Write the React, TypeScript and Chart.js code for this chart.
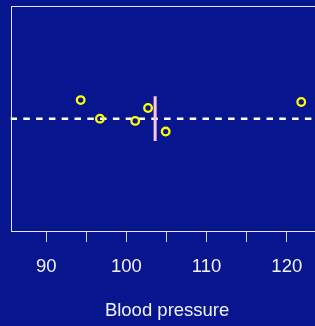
import React, { useEffect, useRef } from "react";
import { Chart, registerables } from "chart.js";

Chart.register(...registerables);

const bloodPressure = [94.3, 96.7, 101.1, 102.7, 104.9, 121.8];
const jitter = [0.165, 0.0, -0.02, 0.095, -0.115, 0.148];
const tickValues = [90, 95, 100, 105, 110, 115, 120];
const labelledTicks = [90, 100, 110, 120];
const xMin = 85.55;
const xMax = 124.6;
const meanBarHalf = 0.2;

const BG = "#07168F";
const FONT = "'Liberation Sans', Arial, Helvetica, sans-serif";

const framePlugin = {
  id: "frame",
  afterDatasetsDraw(chart: any) {
    const { ctx, chartArea } = chart;
    ctx.save();
    ctx.strokeStyle = "#E6E6F2";
    ctx.lineWidth = 1;
    const l = Math.round(chartArea.left) + 0.5;
    const t = Math.round(chartArea.top) + 0.5;
    const r = Math.round(chartArea.right) + 0.5;
    const b = Math.round(chartArea.bottom) + 0.5;
    ctx.strokeRect(l, t, r - l, b - t);
    ctx.restore();
  },
};

export default function App() {
  const ref = useRef<HTMLCanvasElement>(null);
  useEffect(() => {
    const mean = bloodPressure.reduce((a, b) => a + b, 0) / bloodPressure.length;
    const chart = new Chart(ref.current!, {
      type: "scatter",
      data: {
        datasets: [
          {
            data: bloodPressure.map((x, i) => ({ x, y: jitter[i] })),
            pointStyle: "circle",
            pointRadius: 3.8,
            pointBorderWidth: 2.3,
            borderColor: "#FFFF00",
            backgroundColor: "rgba(0,0,0,0)",
            order: 1,
          } as any,
          {
            data: [
              { x: mean, y: -meanBarHalf },
              { x: mean, y: meanBarHalf },
            ],
            showLine: true,
            borderColor: "#FFC4E4",
            borderWidth: 3,
            pointRadius: 0,
            order: 2,
          } as any,
          {
            data: [
              { x: xMin, y: 0 },
              { x: xMax, y: 0 },
            ],
            showLine: true,
            borderColor: "#FFFFFF",
            borderWidth: 2.5,
            borderDash: [6.5, 6.3],
            pointRadius: 0,
            order: 3,
          } as any,
        ],
      },
      options: {
        animation: false,
        responsive: false,
        events: [],
        layout: { padding: { left: 10.5, right: 4.5, top: 5, bottom: 0 } },
        plugins: { legend: { display: false }, tooltip: { enabled: false } },
        scales: {
          y: { display: false, min: -1, max: 1 },
          x: {
            type: "linear",
            min: xMin,
            max: xMax,
            afterBuildTicks: (axis: any) => {
              axis.ticks = tickValues.map((v) => ({ value: v }));
            },
            afterFit: (axis: any) => {
              axis.height = 95;
            },
            border: { display: false },
            grid: {
              display: true,
              drawOnChartArea: false,
              drawTicks: true,
              tickLength: 11,
              color: "#D4D4E4",
              lineWidth: 1,
            },
            ticks: {
              autoSkip: false,
              maxRotation: 0,
              padding: 14,
              color: "#F2F2F2",
              font: { family: FONT, size: 18.5 },
              callback: (v: any) => (labelledTicks.includes(Number(v)) ? String(v) : ""),
            },
            title: {
              display: true,
              text: "Blood pressure",
              color: "#F2F2F2",
              font: { family: FONT, size: 18.5 },
              padding: { top: 0, bottom: 4 },
            },
          },
        },
      },
      plugins: [framePlugin],
    });
    return () => chart.destroy();
  }, []);
  return (
    <div
      style={{
        position: "absolute",
        left: 0,
        top: 0,
        width: 315,
        height: 326,
        overflow: "hidden",
        background: BG,
      }}
    >
      <canvas ref={ref} width={330} height={326} style={{ display: "block", width: 330, height: 326 }} />
    </div>
  );
}
